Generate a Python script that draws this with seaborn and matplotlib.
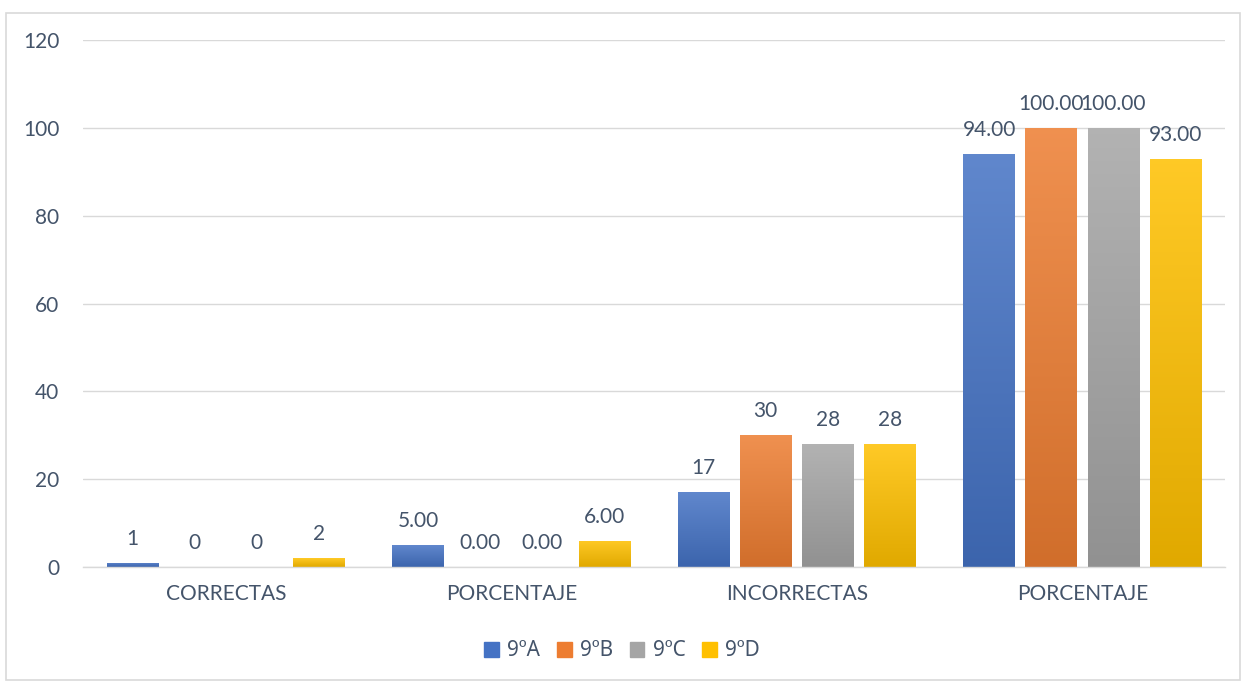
import numpy as np
import pandas as pd
import matplotlib
matplotlib.use("Agg")
import matplotlib.pyplot as plt
import seaborn as sns
from matplotlib.colors import LinearSegmentedColormap, to_rgb
from matplotlib.patches import Rectangle

categories = ["CORRECTAS", "PORCENTAJE", "INCORRECTAS", "PORCENTAJE"]
groups = ["9ºA", "9ºB", "9ºC", "9ºD"]
val_9A = [1, 5.00, 17, 94.00]
val_9B = [0, 0.00, 30, 100.00]
val_9C = [0, 0.00, 28, 100.00]
val_9D = [2, 6.00, 28, 93.00]
label_formats = ["{:.0f}", "{:.2f}", "{:.0f}", "{:.2f}"]
y_ticks = [0, 20, 40, 60, 80, 100, 120]

base_colors = ["#4472C4", "#ED7D31", "#A5A5A5", "#FFC000"]
text_color = "#44546A"
fs = 15

rows = []
for g, vals in zip(groups, [val_9A, val_9B, val_9C, val_9D]):
    for i, v in enumerate(vals):
        rows.append({"pos": str(i), "grupo": g, "valor": v})
df = pd.DataFrame(rows)

sns.set_theme(style="white")
plt.rcParams["font.family"] = ["Lato", "DejaVu Sans"]

fig = plt.figure(figsize=(12.44, 6.83), dpi=100)
ax = fig.add_axes([83 / 1244, 1 - 567 / 683, 1142 / 1244, 527 / 683])

sns.barplot(data=df, x="pos", y="valor", hue="grupo", hue_order=groups,
            order=[str(i) for i in range(4)], palette=base_colors,
            width=0.87, gap=0.17, ax=ax, legend=False, errorbar=None)


def shade(c, f):
    r = np.array(to_rgb(c))
    return tuple(np.clip(r * f, 0, 1)) if f < 1 else tuple(r + (1 - r) * (f - 1))


# vertical gradient fill: lighter at the top, darker at the bottom
for ci, cont in enumerate(ax.containers):
    c = base_colors[ci]
    cmap = LinearSegmentedColormap.from_list("g", [shade(c, 0.88), shade(c, 1.15)])
    for bar in cont:
        x0, y0 = bar.get_x(), bar.get_y()
        w, h = bar.get_width(), bar.get_height()
        if h <= 0:
            continue
        grad = np.linspace(0, 1, 256).reshape(-1, 1)
        im = ax.imshow(grad, cmap=cmap, aspect="auto", origin="lower",
                       extent=(x0, x0 + w, y0, y0 + h), zorder=bar.get_zorder())
        im.set_clip_path(bar)
        bar.set_alpha(0)

for ci, cont in enumerate(ax.containers):
    labels = [label_formats[i].format(b.get_height()) for i, b in enumerate(cont)]
    ax.bar_label(cont, labels=labels, padding=10, color=text_color, fontsize=fs)

ax.set_xlim(-0.5, 3.5)
ax.set_ylim(0, 120)
ax.set_yticks(y_ticks)
ax.set_yticklabels([str(t) for t in y_ticks], color=text_color, fontsize=fs)
ax.set_xticks(range(4))
ax.set_xticklabels(categories, color=text_color, fontsize=fs)
ax.tick_params(axis="x", length=0, pad=12)
ax.tick_params(axis="y", length=0, pad=17)
ax.set_xlabel("")
ax.set_ylabel("")
ax.yaxis.grid(True, color="#D9D9D9", linewidth=1)
ax.set_axisbelow(True)
for s in ["top", "right", "left"]:
    ax.spines[s].set_visible(False)
ax.spines["bottom"].set_color("#D9D9D9")
ax.spines["bottom"].set_linewidth(1)

handles = [Rectangle((0, 0), 1, 1, color=c) for c in base_colors]
fig.legend(handles, groups, loc="center", bbox_to_anchor=(0.5, 1 - 651 / 683),
           ncol=4, frameon=False, handlelength=0.7, handleheight=0.7,
           handletextpad=0.4, columnspacing=0.8, labelcolor=text_color,
           prop={"family": ["Noto Sans", "DejaVu Sans"], "size": fs})

fig.patches.append(Rectangle((6 / 1244, 3 / 683), 1234 / 1244, 667 / 683,
                             transform=fig.transFigure, fill=False,
                             edgecolor="#D9D9D9", linewidth=1.2))

fig.savefig("out.png", dpi=100, facecolor="white")
